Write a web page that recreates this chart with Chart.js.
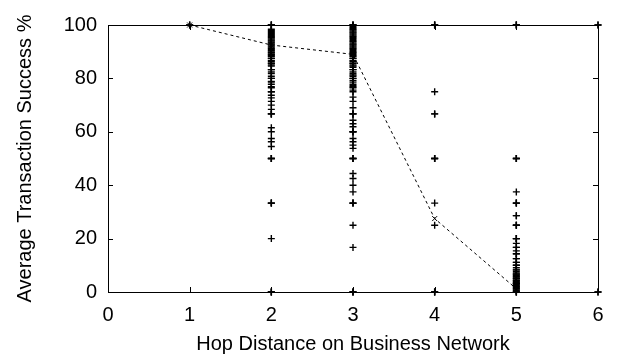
<!DOCTYPE html>
<html lang="en">
<head>
  <meta charset="UTF-8" />
  <title>Transaction success vs hop distance</title>
  <script src="https://cdn.jsdelivr.net/npm/chart.js@4.4.1/dist/chart.umd.min.js"></script>
  <style>
    body { margin: 0; background: #fff; }
    canvas { display: block; }
  </style>
</head>
<body>
  <canvas id="hopChart" width="617" height="360"></canvas>

  <script>
    // tick values
    const hopTicks = [0, 1, 2, 3, 4, 5, 6];
    const successTicks = [0, 20, 40, 60, 80, 100];

    // individual results per hop distance (%), repeated values = several runs
    const hop1Success = [100, 100];
    const hop2Success = [
      100, 100, 100, 98.4, 98, 97.6, 97.2, 96.8, 96.4, 96, 95.6, 95.2, 94.8, 94.4,
      94, 93.6, 93.3, 92.9, 92.5, 92.1, 91.7, 91.3, 90.9, 90.5, 90.2, 89.8, 89.5,
      89.1, 88.9, 88.5, 88.2, 87.5, 87.5, 86.7, 86.4, 85.7, 85.7, 85, 84.6, 83.3,
      83.3, 82.4, 81.8, 80.8, 80, 80, 78.9, 78.6, 77.8, 76.9, 76.5, 75, 75, 73.7,
      72.7, 71.4, 70, 68.4, 66.7, 66.7, 66.7, 61.5, 60, 57.5, 56.3, 54.5, 50, 50,
      50, 33.3, 33.3, 33.3, 20, 0, 0, 0,
    ];
    const hop3Success = [
      100, 100, 100, 99.4, 99, 98.6, 98.2, 97.8, 97.4, 97, 96.6, 96.2, 95.8, 95.4,
      95, 94.6, 94.1, 93.8, 93.3, 92.9, 92.5, 92.1, 91.7, 91.3, 90.9, 90.5, 90,
      89.7, 89.3, 88.9, 88.5, 88.2, 87.5, 87.5, 86.7, 86.4, 85.7, 85.7, 85, 84.6,
      84.2, 83.3, 83.3, 82.4, 81.8, 81.3, 80.8, 80, 80, 79.2, 78.6, 77.8, 77.3,
      76.9, 76.5, 75.6, 75, 73, 71.4, 69, 66.7, 66.7, 66.7, 64.3, 63, 61.9, 60,
      60, 60, 57.5, 56.3, 55, 53.8, 50, 50, 50, 44.4, 42.5, 40, 37.5, 33.3, 33.3,
      33.3, 25, 16.7, 0, 0, 0,
    ];
    const hop4Success = [100, 100, 100, 75, 66.7, 66.7, 50, 50, 50, 33.3, 25, 0, 0, 0];
    const hop5Success = [
      100, 100, 100, 50, 50, 50, 37.5, 33.3, 33.3, 33.3, 28.6, 28.6, 25, 25, 25,
      20, 20, 20, 18.2, 16.7, 16.7, 15.4, 14.3, 14.3, 12.5, 12.5, 11.1, 11.1, 10,
      10, 9.1, 8.3, 8.3, 7.7, 7.1, 6.7, 6.7, 6.3, 5.9, 5.6, 5.3, 5, 5, 4.5, 4.2,
      4, 3.6, 3.3, 3.3, 3.1, 2.9, 2.5, 2.2, 2, 1.7, 1.4, 1.1, 0.8, 0.5, 0, 0, 0,
    ];
    const hop6Success = [100, 100, 0, 0];

    // average per hop distance
    const meanHops = [1, 2, 3, 4, 5];
    const meanSuccess = [100, 92.5, 89, 27.5, 1.2];

    const perHop = [hop1Success, hop2Success, hop3Success, hop4Success, hop5Success, hop6Success];
    const points = [];
    perHop.forEach((vals, i) => {
      vals.forEach((v) => points.push({ x: i + 1, y: v }));
    });
    const meanPoints = meanHops.map((h, i) => ({ x: h, y: meanSuccess[i] }));

    const fontFamily = "'Liberation Sans', Arial, Helvetica, sans-serif";
    Chart.defaults.color = "#000";
    Chart.defaults.font.family = fontFamily;
    Chart.defaults.font.size = 20;

    // box around the plot with inward ticks on all sides
    const framePlugin = {
      id: "frame",
      beforeDatasetsDraw(chart) {
        const { ctx, chartArea: a, scales } = chart;
        ctx.save();
        ctx.strokeStyle = "#000";
        ctx.lineWidth = 1;
        ctx.strokeRect(a.left + 0.5, a.top + 0.5, a.right - a.left, a.bottom - a.top);
        ctx.beginPath();
        hopTicks.forEach((v) => {
          const px = Math.round(scales.x.getPixelForValue(v)) + 0.5;
          ctx.moveTo(px, a.bottom);
          ctx.lineTo(px, a.bottom - 5);
          ctx.moveTo(px, a.top);
          ctx.lineTo(px, a.top + 5);
        });
        successTicks.forEach((v) => {
          const py = Math.round(scales.y.getPixelForValue(v)) + 0.5;
          ctx.moveTo(a.left, py);
          ctx.lineTo(a.left + 5, py);
          ctx.moveTo(a.right, py);
          ctx.lineTo(a.right - 5, py);
        });
        ctx.stroke();
        ctx.restore();
      },
    };

    new Chart(document.getElementById("hopChart"), {
      type: "scatter",
      data: {
        datasets: [
          {
            label: "average",
            data: meanPoints,
            showLine: true,
            borderColor: "#000",
            borderWidth: 1,
            borderDash: [3, 3],
            pointStyle: "crossRot",
            pointRadius: 3.5,
            pointBorderColor: "#000",
            pointBorderWidth: 1,
            clip: false,
          },
          {
            label: "transactions",
            data: points,
            showLine: false,
            pointStyle: "cross",
            pointRadius: 3.5,
            pointBorderColor: "#000",
            pointBorderWidth: 1.4,
            clip: false,
          },
        ],
      },
      options: {
        responsive: false,
        animation: false,
        layout: { padding: { top: 25, right: 19, left: 0, bottom: 0 } },
        plugins: { legend: { display: false }, tooltip: { enabled: false } },
        scales: {
          x: {
            type: "linear",
            min: 0,
            max: 6,
            afterBuildTicks: (s) => { s.ticks = hopTicks.map((v) => ({ value: v })); },
            afterFit: (s) => { s.height = 68; },
            grid: { display: false, drawTicks: false },
            border: { display: false },
            ticks: { padding: 11, maxRotation: 0 },
            title: {
              display: true,
              text: "Hop Distance on Business Network",
              padding: { top: 0, bottom: 4 },
            },
          },
          y: {
            type: "linear",
            min: 0,
            max: 100,
            afterBuildTicks: (s) => { s.ticks = successTicks.map((v) => ({ value: v })); },
            afterFit: (s) => { s.width = 108; },
            grid: { display: false, drawTicks: false },
            border: { display: false },
            ticks: { padding: 11 },
            title: {
              display: true,
              text: "Average Transaction Success %",
              padding: { top: 13, bottom: 0 },
            },
          },
        },
      },
      plugins: [framePlugin],
    });
  </script>
</body>
</html>
